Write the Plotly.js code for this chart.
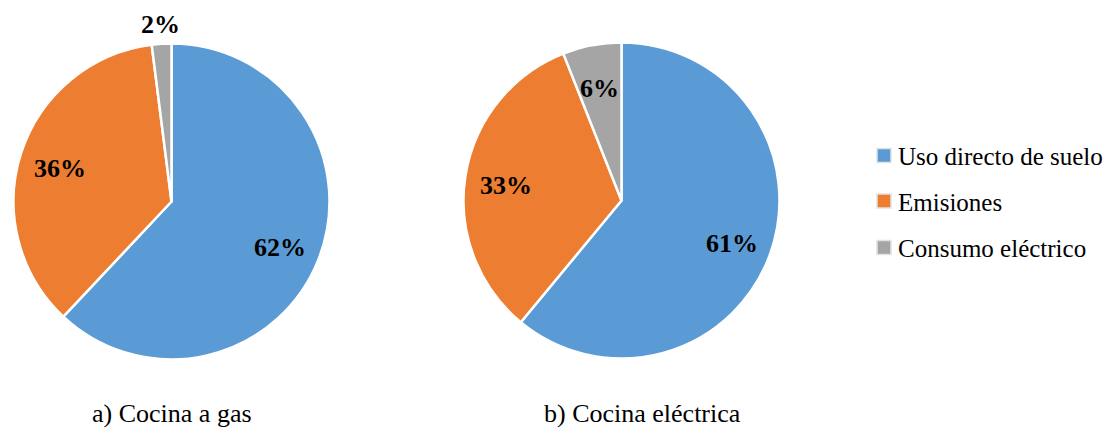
<!DOCTYPE html>
<html>
<head>
<meta charset="utf-8">
<script src="https://cdn.plot.ly/plotly-3.0.1.min.js"></script>
<style>
  html, body { margin: 0; padding: 0; background: #fff; }
  #chart { width: 1107px; height: 430px; }
</style>
</head>
<body>
<div id="chart"></div>
<script>
// Share of impact by source for two cooking systems
const categories = ['Uso directo de suelo', 'Emisiones', 'Consumo eléctrico'];
const gasValues = [62, 36, 2];
const electricValues = [61, 33, 6];
const captions = ['a) Cocina a gas', 'b) Cocina eléctrica'];
const sliceColors = ['#5B9BD5', '#ED7D31', '#A5A5A5'];

const W = 1107, H = 430;
const serif = 'Liberation Serif';

// Pie placement in pixels: centre and radius
const pies = [
  { values: gasValues, cx: 171.5, cy: 201.5, r: 158, caption: captions[0], capX: 172 },
  { values: electricValues, cx: 621.5, cy: 200.5, r: 158, caption: captions[1], capX: 642 }
];

const px = x => x / W;
const py = y => 1 - y / H;

const data = pies.map(p => ({
  type: 'pie',
  labels: categories,
  values: p.values,
  sort: false,
  direction: 'clockwise',
  rotation: 0,
  marker: { colors: sliceColors, line: { color: '#ffffff', width: 2.5 } },
  textinfo: 'none',
  domain: { x: [px(p.cx - p.r), px(p.cx + p.r)], y: [py(p.cy + p.r), py(p.cy - p.r)] },
  showlegend: false,
  hoverinfo: 'label+percent'
}));

const annotations = [];

// Percentage labels placed along each slice's mid-angle
pies.forEach(p => {
  const total = p.values.reduce((a, b) => a + b, 0);
  let cum = 0;
  p.values.forEach(v => {
    const mid = (cum + v / 2) / total;
    cum += v;
    const theta = 2 * Math.PI * mid;
    const outside = v / total < 0.04;
    const k = outside ? 1.12 : 0.74;
    annotations.push({
      text: '<b>' + v + '%</b>',
      x: px(p.cx + k * p.r * Math.sin(theta)),
      y: py(p.cy - k * p.r * Math.cos(theta) + (outside ? 0 : 3)),
      xref: 'paper', yref: 'paper', xanchor: 'center', yanchor: 'middle',
      showarrow: false,
      font: { family: serif, size: 26, color: '#000000' }
    });
  });
  annotations.push({
    text: p.caption, x: px(p.capX), y: py(413),
    xref: 'paper', yref: 'paper', xanchor: 'center', yanchor: 'middle',
    showarrow: false, font: { family: serif, size: 26, color: '#000000' }
  });
});

// Legend: one swatch and label per category
const legendRows = [155.5, 201, 247.5];
const shapes = [];
categories.forEach((c, i) => {
  const yc = legendRows[i];
  shapes.push({
    type: 'rect', xref: 'paper', yref: 'paper',
    x0: px(877), x1: px(891), y0: py(yc + 7), y1: py(yc - 7),
    fillcolor: sliceColors[i], line: { color: '#e2e2e2', width: 1.5 }
  });
  annotations.push({
    text: c, x: px(896), y: py(yc + 1),
    xref: 'paper', yref: 'paper', xanchor: 'left', yanchor: 'middle',
    showarrow: false, font: { family: serif, size: 25, color: '#000000' }
  });
});

const layout = {
  width: W,
  height: H,
  margin: { l: 0, r: 0, t: 0, b: 0 },
  paper_bgcolor: '#ffffff',
  font: { family: serif, color: '#000000' },
  showlegend: false,
  annotations: annotations,
  shapes: shapes
};

Plotly.newPlot('chart', data, layout, { displayModeBar: false, staticPlot: true });
</script>
</body>
</html>
